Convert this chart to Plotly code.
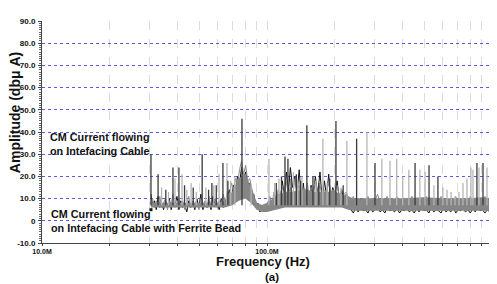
import plotly.graph_objects as go

# ---------------- data (frequencies in MHz, amplitudes in dBuA) ----------------
freq_mhz = [30.5, 31.0, 31.6, 32.2, 32.8, 33.4, 34.0, 34.7, 35.4, 36.1, 36.8, 37.5, 38.2, 39.0, 39.8,
            40.6, 41.4, 42.2, 43.1, 44.0, 44.9, 45.8, 46.8, 47.8, 48.8, 49.8, 50.8, 51.9, 53.0, 54.1,
            55.2, 56.4, 57.6, 58.8, 60.0, 61.3, 62.6, 63.9, 65.2,
            66.6, 68.0, 69.4, 70.9, 72.4, 73.9, 75.5, 77.1, 78.7, 80.4, 82.1, 83.8, 85.6, 87.4, 89.2,
            91.1, 93.0, 95.0, 97.0, 99.0,
            101, 103, 105, 107.5, 110, 112, 114.5, 117, 119.5, 122, 124.5, 127, 130, 133, 136, 139,
            142, 145, 148, 151, 154, 157, 160, 164, 168, 172, 176, 180, 184, 188, 192, 196,
            200, 205, 210, 215, 220, 225, 230,
            236, 242, 248, 254, 260, 267, 274, 281, 288, 295, 302, 310, 318, 326, 334, 342, 351, 360,
            369, 378, 388, 398, 408, 418, 429, 440, 451, 462, 474, 486, 498, 511, 524, 537, 551, 565,
            579, 594, 609, 624, 640, 656, 673, 690, 707, 725, 743, 762, 781, 801, 821, 842, 863, 885,
            907, 930, 953, 977, 1000]

# black trace: CM current on interfacing cable
amp_black = [12, 7, 9, 5, 11, 6, 8, 5, 9, 6, 10, 5, 8, 7, 11, 5, 9, 6, 7, 4, 9, 6, 8, 5, 10, 6, 12, 5,
             8, 6, 9, 5, 11, 7, 8, 5, 10, 6, 9,
             10, 14, 9, 16, 13, 20, 17, 24, 19, 22, 15, 17, 11, 12, 6, 8, 4, 6, 5, 7,
             6, 9, 5, 10, 7, 12, 8, 18, 11, 22, 13, 24, 15, 20, 12, 23, 10, 17, 9, 14, 8, 16, 10, 20,
             12, 22, 9, 18, 11, 21, 10, 15,
             12, 18, 9, 14, 8, 12, 7,
             5, 3.5, 6, 4, 8, 4.5, 5, 3.5, 6, 4, 5, 7, 4, 5, 3.5, 6, 4.5, 5, 4, 6, 3.5, 5, 4.5, 6, 4,
             5, 3.5, 5.5, 4, 6, 4.5, 5, 3.5, 6, 4, 5, 4.5, 3.5, 6, 4, 5, 4, 6, 3.5, 5, 4.5, 6, 4, 5,
             3.5, 5.5, 4, 6, 4.5, 5, 3.5, 5, 4, 6]

# gray trace: CM current on interfacing cable with ferrite bead
amp_gray = [8, 10, 6, 9, 7, 11, 6, 8, 10, 5, 9, 7, 12, 6, 8, 10, 6, 9, 5, 8, 11, 6, 9, 7, 8, 5, 10, 7,
            9, 6, 11, 6, 8, 10, 6, 9, 7, 12, 8,
            13, 11, 17, 14, 19, 16, 23, 27, 21, 25, 18, 19, 14, 10, 8, 5, 6, 4, 7, 5,
            8, 11, 7, 13, 9, 14, 11, 16, 10, 18, 12, 15, 11, 19, 13, 16, 10, 14, 12, 17, 11, 15, 13,
            18, 12, 16, 11, 14, 13, 17, 12, 14,
            13, 16, 11, 14, 12, 13, 10,
            9, 11, 8, 10, 7, 10, 9, 11, 8, 10, 9, 12, 8, 10, 9, 11, 8, 10, 9, 11, 8, 10, 9, 10, 8, 11,
            9, 10, 8, 10, 9, 11, 8, 10, 9, 10, 8, 11, 9, 10, 8, 10, 9, 11, 8, 10, 9, 10, 8, 11, 9, 10,
            8, 10, 9, 11, 8, 10, 9]

# noise-floor band of the gray trace
band_freq_mhz = [30.5, 35, 40, 45, 50, 55, 60, 65, 70, 75, 80, 85, 90, 95, 100, 110, 120, 130, 140,
                 150, 160, 170, 180, 190, 200, 215, 230, 240, 260, 300, 400, 500, 600, 700, 800,
                 900, 1000]
band_low = [6, 6, 6, 6, 6, 6, 6, 6, 7, 9, 10, 8, 5, 4, 4, 5, 6, 6, 6, 6, 6, 6, 6, 6, 6, 6, 5, 4.5,
            4.5, 4.5, 4.5, 4.5, 4.5, 4.5, 4.5, 4.5, 4.5]
band_high = [8, 8, 8, 8, 8, 8, 8, 9, 13, 19, 21, 15, 8, 7, 8, 11, 13, 13, 14, 14, 13, 13, 13, 13,
             13, 12, 11, 10, 10, 10, 10, 10.5, 10, 10, 10, 10.5, 10]

# narrow-band spikes
spike_dark_mhz = [30.5, 32.8, 35.5, 38.2, 40.6, 43.0, 47.0, 51.5, 55.0, 56.9, 59.5, 63.7, 67.0,
                  77.4, 110, 116, 120.2, 123.9, 128, 135, 141, 150.4, 160, 170, 190, 202.5, 218,
                  250.2, 302, 455, 525, 575, 857, 912]
spike_dark_amp = [30, 21, 14, 24, 24, 16, 15, 30, 14, 17, 16, 26, 18, 46, 17, 20, 29, 28, 19, 21,
                  18, 43, 20, 17, 19, 45, 16, 37, 26, 26, 25, 20, 26, 26]
spike_light_mhz = [34.0, 36.5, 39.0, 41.9, 44.0, 46.0, 48.5, 53.5, 58.0, 61.2, 66.4, 69.0, 72.0,
                   85.0, 102, 108, 113, 131, 137, 143, 165, 177.2, 185, 213, 226.5, 278, 324, 352,
                   377, 401, 427, 478, 504, 552, 605, 631, 658, 685, 713, 743, 774, 806, 823, 875,
                   950, 1000]
spike_light_amp = [15, 13, 19, 21, 14, 17, 13, 15, 16, 21, 26, 18, 20, 16, 28, 17, 19, 22, 18, 20,
                   18, 37, 17, 15, 36, 40, 28, 27, 28, 20, 23, 23, 22, 16, 15, 14, 13, 11, 13, 17,
                   19, 24, 23, 24, 24, 23]
spike_base = 7

y_ticks = [-10, 0, 10, 20, 30, 40, 50, 60, 70, 80, 90]
y_labels = ["-10.0", "0", "10.0", "20.0", "30.0", "40.0", "50.0", "60.0", "70.0", "80.0", "90.0"]
x_ticks_hz = [1e7, 1e8, 1e9]
x_labels = ["10.0M", "100.0M", "1.00G"]
x_minor_hz = [m * d for d in (1e7, 1e8) for m in range(2, 10)]

FONT = "Liberation Sans, Arial, sans-serif"


def hz(v):
    return [f * 1e6 for f in v]


def segments(fs, tops, base):
    xs, ys = [], []
    for f, t in zip(fs, tops):
        xs += [f * 1e6, f * 1e6, None]
        ys += [base, t, None]
    return xs, ys


fig = go.Figure()

# black noise line (drawn first, partly under the gray band)
fig.add_trace(go.Scatter(x=hz(freq_mhz), y=amp_black, mode="lines",
                         line=dict(color="#111111", width=1), showlegend=False))
# gray band
fig.add_trace(go.Scatter(x=hz(band_freq_mhz), y=band_low, mode="lines",
                         line=dict(color="rgba(0,0,0,0)", width=0), showlegend=False,
                         hoverinfo="skip"))
fig.add_trace(go.Scatter(x=hz(band_freq_mhz), y=band_high, mode="lines", fill="tonexty",
                         fillcolor="#858585", line=dict(color="#858585", width=0.5),
                         showlegend=False, hoverinfo="skip"))
# gray noise line
fig.add_trace(go.Scatter(x=hz(freq_mhz), y=amp_gray, mode="lines",
                         line=dict(color="#8a8a8a", width=1), showlegend=False))
# spikes
sx, sy = segments(spike_light_mhz, spike_light_amp, spike_base)
fig.add_trace(go.Scatter(x=sx, y=sy, mode="lines", line=dict(color="#b5b5b5", width=1.3),
                         showlegend=False, connectgaps=False))
sx, sy = segments(spike_dark_mhz, spike_dark_amp, spike_base)
fig.add_trace(go.Scatter(x=sx, y=sy, mode="lines", line=dict(color="#3a3a3a", width=1.3),
                         showlegend=False, connectgaps=False))
# start marker
fig.add_trace(go.Scatter(x=[freq_mhz[0] * 1e6], y=[amp_black[15]], mode="markers",
                         marker=dict(symbol="square", size=3, color="#111"), showlegend=False))

# the page body adds an 8 px margin, so the figure is 8 px smaller on each side
fig.update_layout(
    width=489, height=276,
    margin=dict(l=34, r=5, t=13, b=41),
    paper_bgcolor="white", plot_bgcolor="white",
    font=dict(family=FONT, color="#111", size=8),
    xaxis=dict(type="log", range=[7, 9], tickvals=x_ticks_hz, ticktext=x_labels,
               tickfont=dict(size=7, family=FONT, weight="bold"), automargin=False,
               showline=True, linecolor="#444", linewidth=1, ticks="outside", ticklen=2,
               tickcolor="#444", showgrid=True, gridcolor="#dcdcdc", griddash="dash",
               gridwidth=1, zeroline=False, ticklabelstandoff=0,
               minor=dict(tickvals=x_minor_hz, ticks="outside", ticklen=2, tickcolor="#444",
                          showgrid=True, gridcolor="#dcdcdc", griddash="dash", gridwidth=1)),
    yaxis=dict(range=[-10, 90], tickvals=y_ticks, ticktext=y_labels,
               tickfont=dict(size=8, family=FONT, weight="bold"), automargin=False,
               showline=True, linecolor="#444", linewidth=1, ticks="outside", ticklen=3,
               tickcolor="#444", showgrid=True, gridcolor="#5a5ae6", griddash="dot",
               gridwidth=1, zeroline=False, ticklabelstandoff=1,
               minor=dict(dtick=1, ticks="outside", ticklen=2, tickcolor="#666",
                          showgrid=False)),
    annotations=[
        dict(text="Amplitude (dbμ A)", xref="paper", yref="paper", x=-0.06, y=0.585,
             textangle=-90, showarrow=False, xanchor="center", yanchor="middle",
             font=dict(size=14, family=FONT, weight="bold", color="#111")),
        dict(text="Frequency (Hz)", xref="paper", yref="paper", x=0.49, y=-0.04,
             showarrow=False, xanchor="center", yanchor="top",
             font=dict(size=13, family=FONT, weight="bold", color="#111")),
        dict(text="(a)", xref="paper", yref="paper", x=0.51, y=-0.188,
             showarrow=False, xanchor="center", yanchor="bottom",
             font=dict(size=11.5, family=FONT, weight="bold", color="#111")),
        dict(text="CM Current flowing<br>on Intefacing Cable", xref="paper", yref="paper",
             x=0.013, y=0.515, showarrow=False, xanchor="left", yanchor="top", align="left",
             font=dict(size=10.8, family=FONT, weight="bold", color="#111")),
        dict(text="CM Current flowing<br>on Intefacing Cable with Ferrite Bead",
             xref="paper", yref="paper", x=0.015, y=0.165, showarrow=False,
             xanchor="left", yanchor="top", align="left",
             font=dict(size=10.8, family=FONT, weight="bold", color="#111")),
    ],
)

fig.write_html("out.html")
